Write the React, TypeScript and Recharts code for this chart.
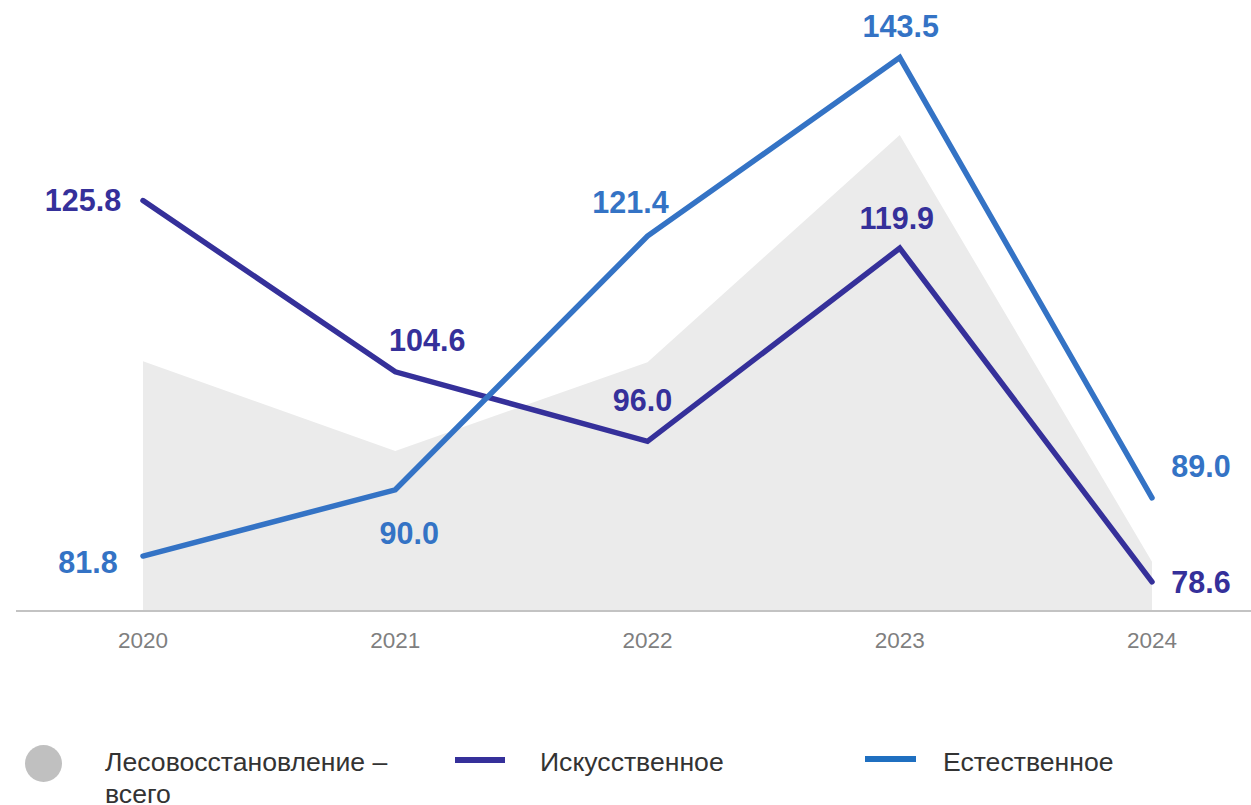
import React from 'react';
import { ComposedChart, Area, Line, XAxis, YAxis, LabelList } from 'recharts';

// years on the x axis
const years = ['2020', '2021', '2022', '2023', '2024'];
// grey area has no labels, values read off the plot scale
const totalValues = [105.9, 94.8, 105.8, 133.9, 81.1];
const artificialValues = [125.8, 104.6, 96.0, 119.9, 78.6];
const naturalValues = [81.8, 90.0, 121.4, 143.5, 89.0];
const seriesNames = ['Лесовосстановление –', 'всего', 'Искусственное', 'Естественное'];

const PURPLE = '#35309a';
const BLUE = '#3473c5';
const LEGEND_BLUE = '#1f6fc0';
const AREA_FILL = '#ebebeb';
const FONT = '"Liberation Sans", Arial, sans-serif';

// label offsets from each point [dx, dy]
const artificialLabelOffsets = [[-60, -1], [32, -32], [-5, -41], [-3, -30], [49, 0]];
const naturalLabelOffsets = [[-55, 6], [14, 43], [-17, -34], [1, -32], [49, -32]];

const chartData = years.map((year, i) => ({
  year,
  total: totalValues[i],
  artificial: artificialValues[i],
  natural: naturalValues[i],
}));

const makeLabel = (color: string, offsets: number[][]) => (props: any) => {
  const { x, y, value, index } = props;
  const [dx, dy] = offsets[index] || [0, -30];
  return (
    <text
      x={Number(x) + dx}
      y={Number(y) + dy}
      textAnchor="middle"
      dominantBaseline="central"
      fill={color}
      fontFamily={FONT}
      fontSize={30.5}
      fontWeight={700}
    >
      {Number(value).toFixed(1)}
    </text>
  );
};

const YearTick = (props: any) => {
  const { x, y, payload } = props;
  return (
    <text
      x={x}
      y={Number(y) + 29}
      textAnchor="middle"
      dominantBaseline="central"
      fill="#7f7f7f"
      fontFamily={FONT}
      fontSize={22.5}
    >
      {payload.value}
    </text>
  );
};

const legendText: React.CSSProperties = {
  position: 'absolute',
  fontFamily: FONT,
  fontSize: 26.6,
  lineHeight: '32px',
  color: '#333333',
  whiteSpace: 'nowrap',
};

export default function App() {
  return (
    <div style={{ position: 'absolute', left: 0, top: 0, width: 1251, height: 805, background: '#fff', overflow: 'hidden' }}>
      <ComposedChart
        width={1251}
        height={805}
        data={chartData}
        margin={{ top: 5, right: 0, left: 16, bottom: 164 }}
      >
        <XAxis
          dataKey="year"
          height={30}
          padding={{ left: 127, right: 99 }}
          tickLine={false}
          tickSize={0}
          tickMargin={0}
          axisLine={{ stroke: '#c3c3c3', strokeWidth: 2 }}
          tick={<YearTick />}
          interval={0}
        />
        <YAxis hide domain={[75, 150]} allowDataOverflow />
        <Area
          type="linear"
          dataKey="total"
          fill={AREA_FILL}
          fillOpacity={1}
          stroke="none"
          isAnimationActive={false}
        />
        <Line
          type="linear"
          dataKey="artificial"
          stroke={PURPLE}
          strokeWidth={5.5}
          strokeLinecap="round"
          dot={false}
          activeDot={false}
          isAnimationActive={false}
        >
          <LabelList dataKey="artificial" content={makeLabel(PURPLE, artificialLabelOffsets)} />
        </Line>
        <Line
          type="linear"
          dataKey="natural"
          stroke={BLUE}
          strokeWidth={5.5}
          strokeLinecap="round"
          dot={false}
          activeDot={false}
          isAnimationActive={false}
        >
          <LabelList dataKey="natural" content={makeLabel(BLUE, naturalLabelOffsets)} />
        </Line>
      </ComposedChart>

      {/* legend */}
      <div style={{ position: 'absolute', left: 25, top: 745, width: 37, height: 37, borderRadius: '50%', background: '#c0c0c0' }} />
      <div style={{ ...legendText, left: 105, top: 746 }}>
        {seriesNames[0]}
        <br />
        {seriesNames[1]}
      </div>
      <div style={{ position: 'absolute', left: 455, top: 757, width: 50, height: 6, background: PURPLE }} />
      <div style={{ ...legendText, left: 540, top: 746 }}>{seriesNames[2]}</div>
      <div style={{ position: 'absolute', left: 865, top: 756, width: 51, height: 6, background: LEGEND_BLUE }} />
      <div style={{ ...legendText, left: 943, top: 746 }}>{seriesNames[3]}</div>
    </div>
  );
}
